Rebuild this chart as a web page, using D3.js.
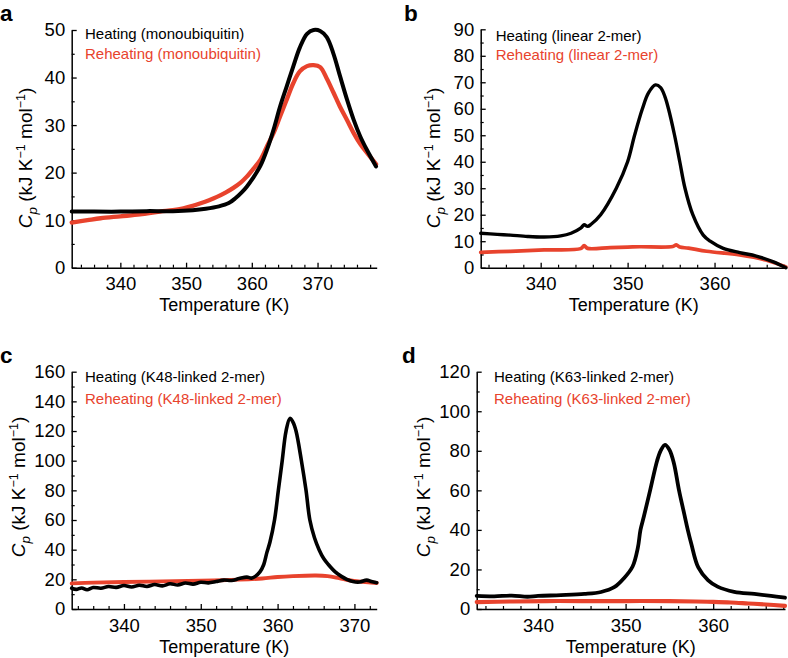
<!DOCTYPE html>
<html>
<head>
<meta charset="utf-8">
<script src="https://cdn.jsdelivr.net/npm/d3@7"></script>
<style>
  html, body { margin: 0; padding: 0; background: #fff; }
  svg { display: block; font-family: "Liberation Sans", Arial, Helvetica, sans-serif; }
</style>
</head>
<body>
<svg id="chart" width="788" height="658"></svg>
<script>
// ---------------- DATA ----------------
// Panel a: monoubiquitin
const heatingA = [[332.6,11.8],[336,11.8],[340,11.8],[344,11.9],[348,11.9],[351,12.1],[353,12.4],[355,12.9],[356.5,13.6],[357.5,14.6],[358.5,15.9],[359.2,17.0],[360.2,18.9],[361.3,21.4],[362.3,24.8],[363.3,29.0],[364.3,33.9],[365.3,38.1],[366.3,42.3],[367.3,46.3],[368.4,49.2],[369.4,50.0],[370.4,49.8],[371.4,48.5],[372.4,45.1],[373.4,40.4],[374.5,35.3],[375.5,31.1],[376.5,27.6],[377.5,24.8],[378.9,21.3]];
const reheatingA = [[332.6,9.5],[335,10.0],[337,10.4],[340,10.8],[343,11.2],[346,11.8],[348,12.1],[349.6,12.5],[351,13.0],[352.1,13.5],[353.5,14.2],[354.7,14.9],[356,15.8],[357.2,16.8],[358.3,17.9],[359.2,19.1],[360.3,20.9],[361.3,22.7],[362.3,25.5],[363.3,28.3],[364.3,31.8],[365.3,35.3],[366.3,38.8],[367.3,41.3],[368.4,42.4],[369.4,42.6],[370.4,42.2],[371.4,39.8],[372.4,36.9],[373.4,33.9],[374.5,31.0],[375.5,28.3],[376.5,26.0],[377.5,24.2],[378.9,21.8]];
// Panel b: linear 2-mer
const heatingB = [[333.1,13.0],[335,12.6],[336.5,12.3],[338.5,11.8],[340.4,11.6],[342.3,12.0],[343.5,13.0],[344.6,14.9],[345.0,16.2],[345.4,15.6],[345.8,16.4],[346.9,20],[348.7,30],[350.0,40],[350.8,50],[351.7,60],[352.4,66],[353.2,69.0],[353.8,68.0],[354.3,64.5],[354.7,60],[355.4,50],[356.0,40],[356.6,30],[357.5,20],[358.7,12.3],[359.5,10],[361.0,7.3],[362.9,5.7],[364.8,4.4],[366.7,2.3],[368.2,0]];
const reheatingB = [[333.1,5.8],[336.5,6.2],[340.4,6.7],[344.6,7.2],[345.0,8.3],[345.4,7.3],[348,7.6],[350,7.8],[351.4,7.9],[355.2,8.0],[355.6,8.6],[356.0,7.8],[357,7.4],[359.1,6.2],[362.9,4.8],[365.9,2.9],[368.2,0.3]];
// Panel c: K48-linked 2-mer
const heatingC = [[333.2,14.0],[333.8,13.2],[334.5,14.2],[335.2,13.0],[336,14.5],[337,14.0],[338,15.2],[339,14.6],[340,15.8],[341,14.8],[342,16.0],[343,15.2],[344,16.5],[345,15.6],[346,17.0],[347,16.2],[348,17.5],[349,16.8],[350,18.0],[351,17.6],[352,18.5],[353,19.5],[354,19.2],[355,20.5],[356,21.5],[356.6,20.8],[357.1,22],[357.7,25],[358.2,30],[358.6,38],[359.0,45],[359.6,60],[360.1,80],[360.6,100],[361.1,120],[361.6,128.5],[362.0,126],[362.4,120],[363.1,100],[363.7,80],[364.2,60],[364.8,48],[365.4,40],[366.0,34],[366.6,30],[367.5,25],[368.3,22],[369.0,20],[369.8,18.5],[370.7,18.2],[371.6,19.5],[372.2,18.5],[372.9,17.7]];
const reheatingC = [[333.2,17.3],[336,17.8],[340,18.2],[345,18.6],[350,19.0],[355,19.8],[358,20.6],[360,21.6],[362,22.2],[365,22.6],[366.5,22.2],[368,20.8],[369.5,19.2],[371,18.4],[372.9,17.5]];
// Panel d: K63-linked 2-mer
const heatingD = [[333,6.6],[335,6.4],[337,6.8],[338.8,6.2],[340,6.6],[342.6,7.0],[345.3,7.6],[347.2,8.6],[348.7,11.0],[349.8,15.5],[350.8,21.5],[351.4,31],[351.7,40],[352.1,47],[352.8,60],[353.6,75],[354.0,80],[354.5,83],[355.0,80.5],[355.5,74],[356.1,60],[356.7,48],[357.1,40],[357.5,33],[358.3,21],[359.4,14.6],[360.5,11.3],[362.4,8.7],[364.7,7.6],[366.6,6.6],[368.2,5.7]];
const reheatingD = [[333,3.5],[337,3.8],[341,4.0],[345,4.0],[350,4.0],[355,4.0],[358,3.8],[360,3.6],[362,3.3],[364,2.8],[366,2.3],[368.2,1.6]];

// Tick labels
const xTicksA = [340, 350, 360, 370];
const xTicksB = [340, 350, 360];
const xTicksC = [340, 350, 360, 370];
const xTicksD = [340, 350, 360];
const yTicksA = [0, 10, 20, 30, 40, 50];
const yTicksB = [0, 10, 20, 30, 40, 50, 60, 70, 80, 90];
const yTicksC = [0, 20, 40, 60, 80, 100, 120, 140, 160];
const yTicksD = [0, 20, 40, 60, 80, 100, 120];

// Legend texts and panel letters
const panelLetters = ["a", "b", "c", "d"];
const heatingLabels = ["Heating (monoubiquitin)", "Heating (linear 2-mer)", "Heating (K48-linked 2-mer)", "Heating (K63-linked 2-mer)"];
const reheatingLabels = ["Reheating (monoubiquitin)", "Reheating (linear 2-mer)", "Reheating (K48-linked 2-mer)", "Reheating (K63-linked 2-mer)"];
const xTitle = "Temperature (K)";

// ---------------- LAYOUT ----------------
const RED = "#e8432d";
const panels = [
  { heat: heatingA, reheat: reheatingA, xd: [332.6, 379.0], yd: [0, 50], xt: xTicksA, yt: yTicksA, yMinor: 5,
    L: 71.7, R: 376.7, T: 30, B: 267.7, letter: [0, 20.8], leg: [85, 39.3, 59.3], ylab: [32, 158], lw: 4 },
  { heat: heatingB, reheat: reheatingB, xd: [333.1, 368.3], yd: [0, 90], xt: xTicksB, yt: yTicksB, yMinor: 5,
    L: 480.7, R: 786.7, T: 29.3, B: 267.7, letter: [404, 20.8], leg: [495.7, 40.7, 60], ylab: [440, 158], lw: 3.4 },
  { heat: heatingC, reheat: reheatingC, xd: [333.2, 372.9], yd: [0, 160], xt: xTicksC, yt: yTicksC, yMinor: 10,
    L: 71.7, R: 376.7, T: 371.7, B: 609, letter: [0, 363], leg: [85, 381.7, 404], ylab: [25, 487], lw: 3.6 },
  { heat: heatingD, reheat: reheatingD, xd: [333, 368.2], yd: [0, 120], xt: xTicksD, yt: yTicksD, yMinor: 10,
    L: 476.7, R: 785, T: 371.7, B: 609, letter: [402, 363], leg: [494, 381.7, 404], ylab: [430, 487], lw: 3.8 }
];

const svg = d3.select("#chart");

panels.forEach((p, i) => {
  const g = svg.append("g");
  const x = d3.scaleLinear().domain(p.xd).range([p.L, p.R]);
  const y = d3.scaleLinear().domain(p.yd).range([p.B, p.T]);

  // minor ticks
  const xMinor = d3.range(Math.ceil(p.xd[0] / 2) * 2, p.xd[1] + 0.001, 2).filter(v => v % 10 !== 0);
  const yMinorVals = d3.range(p.yMinor, p.yd[1], p.yMinor * 2);

  g.append("g").attr("transform", `translate(0,${p.B})`)
    .call(d3.axisBottom(x).tickValues(xMinor).tickSize(-3).tickFormat(""))
    .call(a => a.select(".domain").remove())
    .selectAll("line").attr("stroke", "#000").attr("stroke-width", 1.2);
  g.append("g").attr("transform", `translate(${p.L},0)`)
    .call(d3.axisLeft(y).tickValues(yMinorVals).tickSize(-3).tickFormat(""))
    .call(a => a.select(".domain").remove())
    .selectAll("line").attr("stroke", "#000").attr("stroke-width", 1.2);

  // major axes
  const xa = g.append("g").attr("transform", `translate(0,${p.B})`)
    .call(d3.axisBottom(x).tickValues(p.xt).tickSize(-5).tickSizeOuter(0).tickPadding(9.5).tickFormat(d3.format("d")));
  const ya = g.append("g").attr("transform", `translate(${p.L},0)`)
    .call(d3.axisLeft(y).tickValues(p.yt).tickSize(-5).tickSizeOuter(0).tickPadding(6.5).tickFormat(d3.format("d")));
  [xa, ya].forEach(a => {
    a.select(".domain").attr("stroke", "#000").attr("stroke-width", 1.5);
    a.selectAll("line").attr("stroke", "#000").attr("stroke-width", 1.3);
    a.selectAll("text").attr("font-size", 18.5).attr("fill", "#000")
      .attr("font-family", "'Liberation Sans', Arial, sans-serif");
  });

  // curves
  const lineGen = d3.line().x(d => x(d[0])).y(d => y(d[1])).curve(d3.curveCatmullRom.alpha(0.5));
  g.append("path").datum(p.reheat).attr("d", lineGen)
    .attr("fill", "none").attr("stroke", RED).attr("stroke-width", p.lw + 0.3)
    .attr("stroke-linejoin", "round").attr("stroke-linecap", "round");
  g.append("path").datum(p.heat).attr("d", lineGen)
    .attr("fill", "none").attr("stroke", "#000").attr("stroke-width", p.lw)
    .attr("stroke-linejoin", "round").attr("stroke-linecap", "round");

  // legend
  g.append("text").attr("x", p.leg[0]).attr("y", p.leg[1]).attr("font-size", 15)
    .attr("fill", "#000").text(heatingLabels[i]);
  g.append("text").attr("x", p.leg[0]).attr("y", p.leg[2]).attr("font-size", 15)
    .attr("fill", RED).text(reheatingLabels[i]);

  // panel letter
  g.append("text").attr("x", p.letter[0]).attr("y", p.letter[1]).attr("font-size", 22.5)
    .attr("font-weight", "bold").attr("fill", "#000").text(panelLetters[i]);

  // x title
  g.append("text").attr("x", (p.L + p.R) / 2).attr("y", p.B + 43.5).attr("text-anchor", "middle")
    .attr("font-size", 18).attr("fill", "#000").text(xTitle);

  // y title
  const yt = g.append("text").attr("transform", `translate(${p.ylab[0]},${p.ylab[1]}) rotate(-90)`)
    .attr("text-anchor", "middle").attr("font-size", 19).attr("fill", "#000");
  yt.append("tspan").attr("font-style", "italic").text("C");
  yt.append("tspan").attr("font-style", "italic").attr("font-size", 13.5).attr("dy", 4.5).text("p");
  yt.append("tspan").attr("dy", -4.5).text(" (kJ K");
  yt.append("tspan").attr("font-size", 12.5).attr("dy", -7.5).text("\u22121");
  yt.append("tspan").attr("dy", 7.5).text(" mol");
  yt.append("tspan").attr("font-size", 12.5).attr("dy", -7.5).text("\u22121");
  yt.append("tspan").attr("dy", 7.5).text(")");
});
</script>
</body>
</html>
